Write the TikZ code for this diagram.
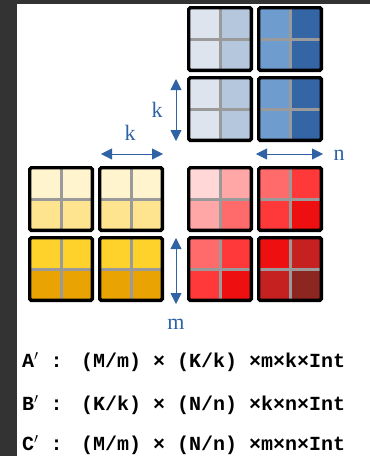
\documentclass[tikz,border=0pt]{standalone}
\usepackage{fontspec}
\setmainfont{Liberation Serif}
\newfontfamily\codefont{Liberation Mono}
\usepackage{tikz}
\usetikzlibrary{arrows.meta}
\definecolor{frame}{HTML}{333333}
\definecolor{dimblue}{HTML}{2F63A6}
\definecolor{gridgray}{HTML}{9A9A9A}
\definecolor{bA}{HTML}{DDE4EE}
\definecolor{bB}{HTML}{B4C7DD}
\definecolor{bC}{HTML}{6F9CCF}
\definecolor{bD}{HTML}{3465A5}
\definecolor{yA}{HTML}{FFF4CE}
\definecolor{yB}{HTML}{FFE490}
\definecolor{yC}{HTML}{FED22B}
\definecolor{yD}{HTML}{E9A302}
\definecolor{rA}{HTML}{FFD7D7}
\definecolor{rB}{HTML}{FFA6A6}
\definecolor{rC}{HTML}{FF6B6B}
\definecolor{rD}{HTML}{FF3939}
\definecolor{rE}{HTML}{EE1010}
\definecolor{rF}{HTML}{C52121}
\definecolor{rG}{HTML}{8B2620}

\begin{document}
\begin{tikzpicture}[x=1pt, y=-1pt,
  tile/.style={draw=black, line width=3.4pt, rounded corners=1.5pt,
    minimum size=62.6pt, inner sep=0pt},
  split/.style={draw=gridgray, line width=3pt},
  dimarrow/.style={draw=dimblue, line width=0.8pt,
    {Triangle[length=11pt,width=11pt]}-{Triangle[length=11pt,width=11pt]}},
  dimlabel/.style={text=dimblue, inner sep=0pt, font=\fontsize{22}{24}\selectfont},
  shapeline/.style={anchor=west, inner sep=0pt,
    font=\codefont\bfseries\fontsize{20}{22}\selectfont\frenchspacing}]
  \useasboundingbox (0,0) rectangle (370,456);
  \fill[frame] (0,0) rectangle (370,456);
  \fill[white] (17,4) rectangle (370,456);
  % blocks of B (top), A (left) and C
  \foreach \nm/\x/\y/\ca/\cb/\cc/\cd in {
      b11/187/6/bA/bB/bA/bB, b12/257/6/bC/bD/bC/bD,
      b21/187/76/bA/bB/bA/bB, b22/257/76/bC/bD/bC/bD,
      a11/28/166/yA/yA/yB/yB, a12/98/166/yA/yA/yB/yB,
      a21/28/236/yC/yC/yD/yD, a22/98/236/yC/yC/yD/yD,
      c11/187/166/rA/rB/rB/rC, c12/257/166/rC/rD/rD/rE,
      c21/187/236/rC/rD/rD/rE, c22/257/236/rE/rF/rF/rG} {
    \fill[fill=\ca] (\x+1.5,\y+1.5) rectangle (\x+33,\y+33);
    \fill[fill=\cb] (\x+33,\y+1.5) rectangle (\x+64.5,\y+33);
    \fill[fill=\cc] (\x+1.5,\y+33) rectangle (\x+33,\y+64.5);
    \fill[fill=\cd] (\x+33,\y+33) rectangle (\x+64.5,\y+64.5);
    \draw[split] (\x+33,\y) -- (\x+33,\y+66);
    \draw[split] (\x,\y+33) -- (\x+66,\y+33);
    \node[tile] (\nm) at (\x+33,\y+33) {};
  }
  % tile sizes
  \coordinate (ktop) at (176,79);
  \coordinate (kbot) at (176,141);
  \coordinate (kleft) at (101,154);
  \coordinate (kright) at (163,154);
  \coordinate (nleft) at (256,154);
  \coordinate (nright) at (323,154);
  \coordinate (mtop) at (176,238);
  \coordinate (mbot) at (176,304);
  \draw[dimarrow] (ktop) -- (kbot);
  \draw[dimarrow] (kleft) -- (kright);
  \draw[dimarrow] (nleft) -- (nright);
  \draw[dimarrow] (mtop) -- (mbot);
  \node[dimlabel] (kv) at (157,110) {k};
  \node[dimlabel] (kh) at (130,133) {k};
  \node[dimlabel] (nh) at (339,155) {n};
  \node[dimlabel] (mv) at (176,324) {m};
  % shapes of the tiled arrays
  \node[shapeline] (ashape) at (22,362) {\makebox[59pt][l]{A$'$\ :}(M/m) × (K/k) ×m×k×Int};
  \node[shapeline] (bshape) at (22,405) {\makebox[59pt][l]{B$'$\ :}(K/k) × (N/n) ×k×n×Int};
  \node[shapeline] (cshape) at (22,445) {\makebox[59pt][l]{C$'$\ :}(M/m) × (N/n) ×m×n×Int};
\end{tikzpicture}
\end{document}
